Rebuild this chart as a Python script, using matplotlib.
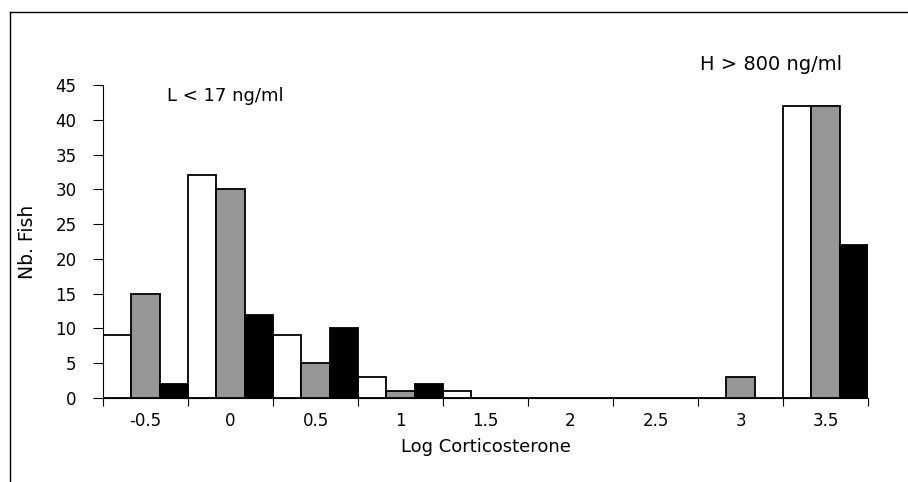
import numpy as np
import matplotlib.pyplot as plt
from matplotlib.lines import Line2D

plt.rcParams['font.family'] = ['DejaVu Sans']

# class labels (log corticosterone bins)
categories = ['-0.5', '0', '0.5', '1', '1.5', '2', '2.5', '3', '3.5']
# number of fish per bin, three groups
white_vals = [9, 32, 9, 3, 1, 0, 0, 0, 42]
grey_vals = [15, 30, 5, 1, 0, 0, 0, 3, 42]
black_vals = [2, 12, 10, 2, 0, 0, 0, 0, 22]

fig = plt.figure(figsize=(9.08, 4.82), dpi=100)
ax = fig.add_axes([103/908, 1 - 398/482, 765/908, 313/482])

x = np.arange(len(categories))
w = 1/3
ax.bar(x - w, white_vals, w, color='white', edgecolor='black', linewidth=1.3)
ax.bar(x, grey_vals, w, color='#969696', edgecolor='black', linewidth=1.3)
ax.bar(x + w, black_vals, w, color='black', edgecolor='black', linewidth=1.3)

ax.set_xlim(-0.5, len(categories) - 0.5)
ax.set_ylim(0, 45)
ax.set_yticks(range(0, 50, 5))
ax.set_xticks(np.arange(len(categories) + 1) - 0.5)
ax.set_xticklabels([])
ax.set_xticks(x, minor=True)
ax.set_xticklabels(categories, minor=True)
ax.tick_params(axis='x', which='major', length=6, width=0.8)
ax.tick_params(axis='x', which='minor', length=0, pad=10, labelsize=12)
ax.tick_params(axis='y', length=7, width=0.8, labelsize=12, pad=12)

for s in ['top', 'right']:
    ax.spines[s].set_visible(False)

ax.set_xlabel('Log Corticosterone', fontsize=13, labelpad=6)
ax.set_ylabel('Nb. Fish', fontsize=13.5, labelpad=13)

fig.text(167/908, 1 - 96/482, 'L < 17 ng/ml', fontsize=13, va='center')
fig.text(700/908, 1 - 64/482, 'H > 800 ng/ml', fontsize=14, va='center')

# frame lines around the chart area
fig.add_artist(Line2D([10/908, 10/908], [0, 1 - 12/482], color='black', linewidth=1))
fig.add_artist(Line2D([10/908, 1], [1 - 12/482, 1 - 12/482], color='black', linewidth=1))

plt.savefig('out.png', dpi=100)
